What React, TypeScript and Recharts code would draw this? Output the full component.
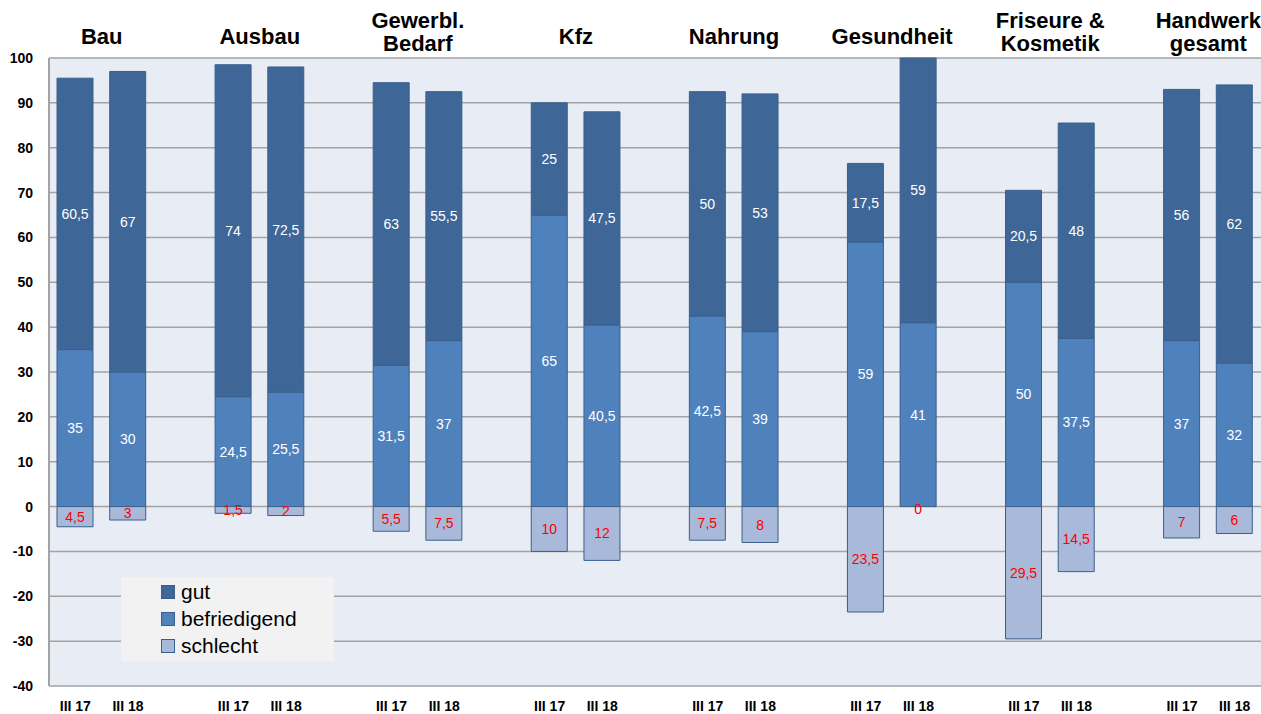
import { BarChart, Bar, XAxis, YAxis, CartesianGrid, LabelList, Legend } from 'recharts';

// Group titles; "|" marks a line break in the title
const groups = ['Bau', 'Ausbau', 'Gewerbl.|Bedarf', 'Kfz', 'Nahrung', 'Gesundheit', 'Friseure &|Kosmetik', 'Handwerk|gesamt'];
const periods = ['III 17', 'III 18'];

// one value per bar, group by group: III 17, III 18
const gut = [60.5, 67, 74, 72.5, 63, 55.5, 25, 47.5, 50, 53, 17.5, 59, 20.5, 48, 56, 62];
const befriedigend = [35, 30, 24.5, 25.5, 31.5, 37, 65, 40.5, 42.5, 39, 59, 41, 50, 37.5, 37, 32];
const schlecht = [4.5, 3, 1.5, 2, 5.5, 7.5, 10, 12, 7.5, 8, 23.5, 0, 29.5, 14.5, 7, 6];

const yTicks = [-40, -30, -20, -10, 0, 10, 20, 30, 40, 50, 60, 70, 80, 90, 100];

const COLORS = {
  gut: '#3e6798',
  befriedigend: '#4f81bd',
  schlecht: '#a9b9d9',
  border: '#3a5f8c',
};

const FONT = 'Liberation Sans, Arial, sans-serif';

type Row = {
  key: string;
  group: string;
  period: string;
  gut: number | null;
  befriedigend: number | null;
  schlecht: number | null;
};

// empty row between groups keeps the gap
const rows: Row[] = [];
groups.forEach((g, gi) => {
  periods.forEach((p, pi) => {
    const i = gi * 2 + pi;
    rows.push({
      key: `${g}-${p}`,
      group: pi === 0 ? g : '',
      period: p,
      gut: gut[i],
      befriedigend: befriedigend[i],
      schlecht: schlecht[i] === 0 ? 0 : -schlecht[i],
    });
  });
  if (gi < groups.length - 1) {
    rows.push({ key: `gap-${gi}`, group: '', period: '', gut: null, befriedigend: null, schlecht: null });
  }
});

const fmt = (v: any) => (v === null || v === undefined ? '' : String(Math.abs(Number(v))).replace('.', ','));

const GroupTick = (props: any) => {
  const { x, y, payload } = props;
  const row = rows.find((r) => r.key === payload.value);
  if (!row || !row.group) return null;
  const lines = row.group.split('|');
  const cx = x + (payload.offset || 0);
  return (
    <text x={cx} textAnchor="middle" fontSize={22} fontWeight="bold" fontFamily={FONT} fill="#000">
      {lines.length === 1 ? (
        <tspan x={cx} y={y - 6}>{lines[0]}</tspan>
      ) : (
        lines.map((l, i) => (
          <tspan key={i} x={cx} y={y - 22 + i * 23}>{l}</tspan>
        ))
      )}
    </text>
  );
};

const PeriodTick = (props: any) => {
  const { x, y, payload } = props;
  const row = rows.find((r) => r.key === payload.value);
  if (!row || !row.period) return null;
  return (
    <text x={x} y={y} dy="0.71em" textAnchor="middle" fontSize={14} fontWeight="bold" fontFamily={FONT} fill="#000">
      {row.period}
    </text>
  );
};

const badText = (cx: number, cy: number, value: any) => (
  <text x={cx} y={cy} dominantBaseline="central" textAnchor="middle" fontSize={14} fontFamily={FONT} fill="#ff0000">
    {fmt(value)}
  </text>
);

// red value labels in the bars below the zero line
const BadLabel = (props: any) => {
  const { x, y, width, height, value } = props;
  if (value === null || value === undefined) return null;
  return badText(Number(x) + Number(width) / 2, Number(y) + Number(height) / 2, value);
};

// a zero "schlecht" value has no rectangle, so its "0" hangs under the befriedigend bar
const ZeroBadLabel = (props: any) => {
  const { x, y, width, height, value } = props;
  if (value !== 0) return null;
  return badText(Number(x) + Number(width) / 2, Number(y) + Number(height) + 2, value);
};

const LegendBox = () => {
  const items = [
    { name: 'gut', color: COLORS.gut },
    { name: 'befriedigend', color: COLORS.befriedigend },
    { name: 'schlecht', color: COLORS.schlecht },
  ];
  return (
    <div style={{ background: '#f2f2f2', width: 213, height: 84, boxSizing: 'border-box', padding: '1px 0 0 40px' }}>
      {items.map((it) => (
        <div key={it.name} style={{ display: 'flex', alignItems: 'center', height: 27 }}>
          <span style={{ display: 'inline-block', width: 12, height: 12, background: it.color, border: `1px solid ${COLORS.border}`, marginRight: 6 }} />
          <span style={{ fontSize: 21, fontFamily: FONT, color: '#000' }}>{it.name}</span>
        </div>
      ))}
    </div>
  );
};

const labelStyle = { fontSize: 14, fontFamily: FONT };

export default function App() {
  return (
    <div style={{ position: 'absolute', left: 0, top: 0, width: 1261, height: 714, background: '#fff' }}>
      <BarChart
        width={1261}
        height={714}
        data={rows}
        stackOffset="sign"
        barSize={36}
        margin={{ top: 0, right: 0, bottom: 0, left: 0 }}
      >
        <CartesianGrid vertical={false} fill="#e8ecf4" stroke="#a3a3a3" strokeWidth={1.5} />
        <XAxis xAxisId="top" orientation="top" dataKey="key" height={58} axisLine={false} tickLine={false} interval={0} tick={GroupTick} />
        <XAxis dataKey="key" height={28} axisLine={false} tickLine={false} interval={0} tickMargin={9} tick={PeriodTick} />
        <YAxis
          width={49}
          domain={[-40, 100]}
          ticks={yTicks}
          interval={0}
          tickLine={false}
          axisLine={{ stroke: '#a3a3a3', strokeWidth: 2 }}
          tickMargin={10}
          tick={{ fontSize: 14, fontWeight: 'bold', fill: '#000', fontFamily: FONT }}
        />
        <Legend
          layout="horizontal"
          verticalAlign="middle"
          align="center"
          wrapperStyle={{ left: 121, top: 577, width: 213, height: 84 }}
          content={LegendBox}
        />
        <Bar dataKey="befriedigend" stackId="a" fill={COLORS.befriedigend} stroke={COLORS.border} strokeWidth={1} isAnimationActive={false}>
          <LabelList dataKey="befriedigend" position="center" formatter={fmt} fill="#ffffff" style={labelStyle} />
          <LabelList dataKey="schlecht" content={ZeroBadLabel} />
        </Bar>
        <Bar dataKey="gut" stackId="a" fill={COLORS.gut} stroke={COLORS.border} strokeWidth={1} isAnimationActive={false}>
          <LabelList dataKey="gut" position="center" formatter={fmt} fill="#ffffff" style={labelStyle} />
        </Bar>
        <Bar dataKey="schlecht" stackId="a" fill={COLORS.schlecht} stroke={COLORS.border} strokeWidth={1} isAnimationActive={false}>
          <LabelList dataKey="schlecht" content={BadLabel} />
        </Bar>
      </BarChart>
    </div>
  );
}
